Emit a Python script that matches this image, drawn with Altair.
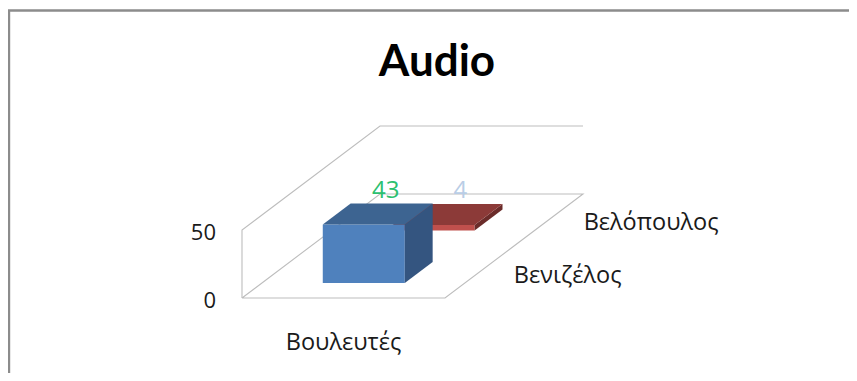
import altair as alt
import pandas as pd

title_text = "Audio"
category = "Βουλευτές"
series = ["Βενιζέλος", "Βελόπουλος"]
values = [43, 4]
value_ticks = [0, 50]
label_colors = ["#2cc06f", "#b9cde6"]
label_shift = [-6, -1]
front_colors = ["#4f81bd", "#c0504d"]
top_colors = ["#3d6491", "#8c3a38"]
side_colors = ["#345580", "#6b2c2a"]

FONT = "Open Sans"
PX_X, PX_Y = 203.0, 1.36          # pixels per category width / per value unit
DEPTH_X, DEPTH_Y = 138.0 / PX_X, 104.0 / PX_Y  # oblique projection of the depth axis
OX, OY = 242.0, 298.0             # where the floor's front-left corner sits on the page
W, H = 841, 365

def sx(c, d): return c + DEPTH_X * d
def sy(v, d): return v + DEPTH_Y * d

x_scale = alt.Scale(domain=[(8 - OX) / PX_X, (8 + W - OX) / PX_X], nice=False, zero=False)
y_scale = alt.Scale(domain=[(OY - (8 + H)) / PX_Y, (OY - 8) / PX_Y], nice=False, zero=False)
X = alt.X("x:Q", scale=x_scale, axis=None)
Y = alt.Y("y:Q", scale=y_scale, axis=None)

# walls and floor outline
wire = []
for name, pts in {
    "floor": [(0, 0, 0), (1, 0, 0), (1, 1, 0), (0, 1, 0), (0, 0, 0)],
    "wall": [(0, 0, 0), (0, 0, 50), (0, 1, 50), (1, 1, 50)],
}.items():
    for i, (c, d, v) in enumerate(pts):
        wire.append({"id": name, "i": i, "x": sx(c, d), "y": sy(v, d)})
wire_layer = alt.Chart(pd.DataFrame(wire)).mark_line(color="#bdbdbd", strokeWidth=1.1, clip=False).encode(
    x=X, y=Y, detail="id:N", order="i:Q")

# outer border of the picture
px = lambda p: (p - OX) / PX_X
py = lambda p: (OY - p) / PX_Y
frame = [
    {"i": 0, "x": px(9), "y": py(373)},
    {"i": 1, "x": px(9), "y": py(10.5)},
    {"i": 2, "x": px(849), "y": py(10.5)},
]
frame_layer = alt.Chart(pd.DataFrame(frame)).mark_line(color="#8c8c8c", strokeWidth=2.4, clip=False).encode(
    x=X, y=Y, order="i:Q")

# bars: drawn back to front
BAR_L, BAR_R = 0.30, 0.704
DEPTH_START = [0.144, 0.65]
BAR_D = 0.202
layers = []
for k in [1, 0]:
    v = values[k]
    d0, d1 = DEPTH_START[k], DEPTH_START[k] + BAR_D
    vert = pd.DataFrame([
        {"id": "front", "fill": front_colors[k], "x": sx(BAR_L, d0), "y": sy(0, d0), "y2": sy(v, d0)},
        {"id": "front", "fill": front_colors[k], "x": sx(BAR_R, d0), "y": sy(0, d0), "y2": sy(v, d0)},
        {"id": "side", "fill": side_colors[k], "x": sx(BAR_R, d0), "y": sy(0, d0), "y2": sy(v, d0)},
        {"id": "side", "fill": side_colors[k], "x": sx(BAR_R, d1), "y": sy(0, d1), "y2": sy(v, d1)},
    ])
    layers.append(alt.Chart(vert).mark_area(clip=False, orient="vertical").encode(
        x=X, y=Y, y2="y2:Q", detail="id:N", color=alt.Color("fill:N", scale=None)))
    top = pd.DataFrame([
        {"fill": top_colors[k], "y": sy(v, d0), "x": sx(BAR_L, d0), "x2": sx(BAR_R, d0)},
        {"fill": top_colors[k], "y": sy(v, d1), "x": sx(BAR_L, d1), "x2": sx(BAR_R, d1)},
    ])
    layers.append(alt.Chart(top).mark_area(clip=False, orient="horizontal").encode(
        y=Y, x=X, x2="x2:Q", color=alt.Color("fill:N", scale=None)))

# value labels at the back edge of each bar top
value_labels = pd.DataFrame([
    {"x": sx((BAR_L + BAR_R) / 2, DEPTH_START[k] + BAR_D) + label_shift[k] / PX_X,
     "y": sy(values[k], DEPTH_START[k] + BAR_D),
     "text": str(values[k]), "color": label_colors[k]}
    for k in range(2)
])
label_layer = alt.Chart(value_labels).mark_text(font=FONT, fontSize=24, dy=-13, clip=False).encode(
    x=X, y=Y, text="text:N", color=alt.Color("color:N", scale=None))

# value-axis tick labels on the left wall
ticks = pd.DataFrame({"x": [0.0] * len(value_ticks), "y": value_ticks, "text": [str(t) for t in value_ticks]})
tick_layer = alt.Chart(ticks).mark_text(font=FONT, fontSize=22, align="right", dx=-26, dy=3, color="#1a1a1a").encode(
    x=X, y=Y, text="text:N")

# category and series labels
cat_layer = alt.Chart(pd.DataFrame({"x": [0.5], "y": [0.0], "text": [category]})).mark_text(
    font=FONT, fontSize=23.5, dy=45, color="#1a1a1a").encode(x=X, y=Y, text="text:N")
series_df = pd.DataFrame({
    "x": [sx(1, DEPTH_START[k] + BAR_D / 2) for k in range(2)],
    "y": [sy(0, DEPTH_START[k] + BAR_D / 2) for k in range(2)],
    "text": series,
})
series_layer = alt.Chart(series_df).mark_text(
    font=FONT, fontSize=23.5, align="left", dx=35, dy=3, color="#1a1a1a").encode(x=X, y=Y, text="text:N")

# chart title, sitting in the upper band of the picture
title_layer = alt.Chart(pd.DataFrame({"x": [px(437)], "y": [py(63)], "text": [title_text]})).mark_text(
    font="Lato", fontSize=44, fontWeight="bold", color="#000000", baseline="middle").encode(x=X, y=Y, text="text:N")

chart = alt.layer(
    frame_layer, wire_layer, *layers, label_layer, tick_layer, cat_layer, series_layer, title_layer
).properties(
    width=W, height=H,
    padding=0,
    autosize=alt.AutoSizeParams(type="none"),
    background="#ffffff",
).configure_view(stroke=None)

chart.save("out.html", embed_options={"renderer": "svg", "actions": False})
